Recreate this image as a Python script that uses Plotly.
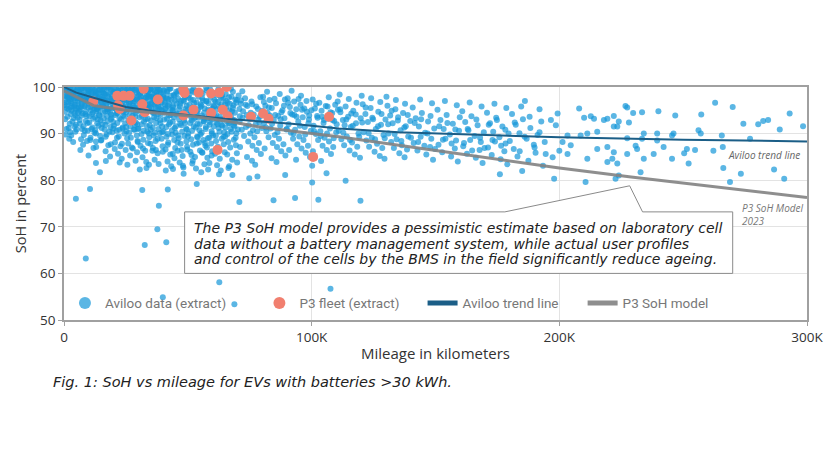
import plotly.graph_objects as go

# Aviloo data (extract) - mileage in thousand km, SoH in percent
aviloo_km = [
    0.8, 1.5, 2.2, 3.1, 3.8, 4.5, 1.2, 2.7, 4.1, 0.5, 3.4, 1.9, 4.7, 2.5, 0.9, 3.6, 4.9, 1.7, 2.9, 4.3, 0.6, 2.1,
    5.3, 6.1, 7.0, 7.8, 8.6, 9.4, 5.8, 6.7, 7.5, 8.2, 9.1, 9.8, 5.5, 6.4, 7.3, 8.8, 9.6, 6.9, 8.0, 5.1, 9.3, 7.7, 6.2, 8.4,
    10.4, 11.2, 12.0, 12.8, 13.6, 14.4, 10.9, 11.7, 12.5, 13.3, 14.1, 14.8, 10.2, 11.5, 12.3, 13.9, 14.6, 10.7, 12.9, 11.9, 13.4, 14.9, 10.1, 12.2, 13.7,
    15.3, 16.1, 16.9, 17.7, 18.5, 19.3, 15.8, 16.6, 17.4, 18.2, 19.0, 19.8, 15.5, 16.4, 17.2, 18.8, 19.5, 15.1, 17.9, 16.8, 18.6, 19.9, 15.9, 17.1, 18.9, 16.3,
    20.4, 21.1, 21.9, 22.6, 23.4, 24.2, 20.8, 21.6, 22.4, 23.1, 23.9, 24.7, 20.2, 21.3, 22.1, 23.6, 24.4, 20.6, 22.8, 24.9, 21.8, 23.3, 24.1, 22.2, 20.9, 23.8,
    25.3, 26.0, 26.8, 27.5, 28.3, 29.1, 25.7, 26.5, 27.2, 28.0, 28.8, 29.6, 25.1, 26.3, 27.0, 28.5, 29.4, 25.9, 27.8, 29.8, 26.7, 28.9, 29.2, 27.3, 25.5, 28.6,
    30.3, 31.1, 31.8, 32.6, 33.4, 34.2, 30.7, 31.5, 32.3, 33.0, 33.8, 34.6, 30.1, 31.3, 32.0, 33.6, 34.4, 30.9, 32.8, 34.9, 31.7, 33.2, 34.0, 32.1, 30.5, 33.9,
    35.2, 36.0, 36.7, 37.5, 38.3, 39.1, 35.6, 36.4, 37.2, 38.0, 38.8, 39.6, 35.0, 36.2, 37.0, 38.6, 39.4, 35.9, 37.8, 39.8, 36.6, 38.2, 39.0, 37.4, 35.4, 38.5,
    40.4, 41.2, 41.9, 42.7, 43.5, 44.3, 40.8, 41.6, 42.4, 43.1, 43.9, 44.7, 40.2, 41.4, 42.1, 43.7, 44.5, 41.0, 42.9, 44.9, 41.8, 43.3, 44.1, 42.3, 40.6, 43.8,
    45.3, 46.1, 46.8, 47.6, 48.4, 49.2, 45.7, 46.5, 47.3, 48.0, 48.8, 49.6, 45.1, 46.3, 47.1, 48.6, 49.4, 45.9, 47.9, 49.8, 46.7, 48.2, 49.0, 47.4, 45.5, 48.9,
    50.4, 51.2, 51.9, 52.7, 53.5, 54.3, 50.8, 51.6, 52.4, 53.1, 53.9, 54.7, 50.2, 51.4, 52.1, 53.7, 54.5, 51.0, 52.9, 54.9, 51.8, 53.3, 54.1, 52.3, 50.6, 53.8,
    55.3, 56.1, 56.8, 57.6, 58.4, 59.2, 55.7, 56.5, 57.3, 58.0, 58.8, 59.6, 55.1, 56.3, 57.1, 58.6, 59.4, 55.9, 57.9, 59.8, 56.7, 58.2, 59.0, 57.4, 55.5, 58.9,
    60.4, 61.2, 61.9, 62.7, 63.5, 64.3, 60.8, 61.6, 62.4, 63.1, 63.9, 64.7, 60.2, 61.4, 62.1, 63.7, 64.5, 61.0, 62.9, 64.9, 61.8, 63.3, 64.1, 62.3, 60.6,
    65.3, 66.1, 66.8, 67.6, 68.4, 69.2, 65.7, 66.5, 67.3, 68.0, 68.8, 69.6, 65.1, 66.3, 67.1, 68.6, 69.4, 65.9, 67.9, 69.8, 66.7, 68.2, 69.0, 67.4, 65.5,
    70.5, 71.4, 72.3, 73.1, 74.0, 74.8, 75.7, 76.6, 77.4, 78.3, 79.1, 79.9, 70.9, 71.8, 72.7, 73.5, 74.4, 75.2, 76.1, 76.9, 77.8, 78.7, 79.5, 71.1, 73.9, 75.9, 77.2, 79.3, 72.0, 78.0,
    80.4, 81.3, 82.2, 83.0, 83.9, 84.7, 85.6, 86.5, 87.3, 88.2, 89.0, 89.8, 80.8, 81.7, 82.6, 83.4, 84.3, 85.1, 86.0, 86.8, 87.7, 88.6, 89.4, 81.0, 83.8, 85.8, 87.1, 89.2, 82.0,
    90.3, 91.2, 92.1, 92.9, 93.8, 94.6, 95.5, 96.4, 97.2, 98.1, 98.9, 99.7, 90.7, 91.6, 92.5, 93.3, 94.2, 95.0, 95.9, 96.7, 97.6, 98.5, 99.3, 90.9, 93.7, 95.7, 97.9, 91.9,
    100.4, 101.3, 102.2, 103.1, 104.0, 104.8, 105.7, 106.6, 107.4, 108.3, 109.1, 109.9, 100.8, 101.7, 102.6, 103.5, 104.4, 105.2, 106.1, 107.0, 107.8, 108.7, 100.5, 103.8, 106.9, 109.5,
    110.5, 111.6, 112.6, 113.7, 114.7, 115.8, 116.8, 117.9, 118.9, 119.8, 110.9, 112.0, 113.1, 114.2, 115.3, 116.3, 117.4, 118.4, 119.5, 111.3, 115.0, 118.1,
    120.6, 121.7, 122.7, 123.8, 124.8, 125.9, 126.9, 128.0, 129.0, 129.8, 121.0, 122.1, 123.2, 124.3, 125.4, 126.4, 127.5, 128.5, 120.2, 124.0, 127.7, 129.4,
    130.6, 131.7, 132.7, 133.8, 134.8, 135.9, 136.9, 138.0, 139.0, 139.8, 131.0, 132.1, 133.2, 134.3, 135.4, 136.4, 137.5, 138.5, 130.2, 134.0, 137.7,
    140.8, 142.0, 143.3, 144.5, 145.8, 147.0, 148.3, 149.5, 141.2, 142.7, 144.0, 146.3, 147.8, 149.0, 143.8, 148.6,
    150.8, 152.0, 153.3, 154.5, 155.8, 157.0, 158.3, 159.5, 151.2, 152.7, 154.0, 156.3, 157.8, 159.0, 153.8, 158.6,
    160.8, 162.0, 163.3, 164.5, 165.8, 167.0, 168.3, 169.5, 161.2, 162.7, 164.0, 166.3, 167.8, 169.0, 163.8, 168.6,
    170.8, 172.0, 173.3, 174.5, 175.8, 177.0, 178.3, 179.5, 171.2, 172.7, 174.0, 176.3, 177.8, 179.0, 173.8, 178.6,
    180.9, 182.4, 183.9, 185.3, 186.8, 188.3, 189.7, 191.2, 192.7, 194.1, 181.6, 183.1, 184.6, 187.5, 190.4, 193.4, 186.1, 192.0,
    196.6, 198.6, 199.3, 201.3, 204.6, 200.0, 197.3, 203.3, 203.3, 208.6, 211.3, 215.3, 208.0, 210.0, 212.7, 214.0, 218.0, 219.4,
    222.0, 224.0, 222.0, 211.3, 215.3, 219.4, 222.0, 221.4, 219.4, 223.4, 227.4, 233.4, 239.5, 234.1, 239.5, 228.1, 223.4, 226.7,
    227.4, 229.8, 233.4, 246.8, 257.3, 262.9, 274.3, 280.3, 282.3, 284.3, 289.0, 298.4, 246.1, 245.5, 256.2, 257.1, 265.6, 251.5,
    250.4, 254.8, 266.0, 262.2, 245.5, 252.2, 266.2, 273.3, 286.7, 290.8, 268.9, 242.1, 238.1, 234.1, 230.8, 231.4, 227.4, 232.8,
    224.0, 222.7, 210.6, 197.9, 240.0, 270.0, 293.0, 277.0,
    10.5, 4.8, 8.8, 38.3, 31.6, 41.9, 53.6, 70.8, 84.6, 93.3, 102.7, 100.2, 37.7, 32.6, 41.3, 62.7, 39.9, 68.8, 107.6,
    14.5, 12.9, 22.5, 30.6, 34.3, 44.0, 48.0, 68.0, 74.8, 78.1, 89.3, 106.0, 100.2, 119.7, 113.7,
]
aviloo_soh = [
    99.2, 97.8, 98.9, 96.5, 99.6, 97.1, 95.4, 94.2, 95.8, 93.1, 92.6, 91.2, 93.9, 90.3, 96.7, 98.3, 99.1, 99.8, 97.4, 91.5, 89.8, 88.9,
    99.4, 98.1, 99.7, 97.5, 98.8, 96.9, 96.2, 95.1, 94.3, 95.9, 93.8, 99.2, 93.4, 92.1, 91.0, 92.7, 90.6, 97.3, 89.7, 90.9, 88.4, 87.6, 99.0, 100.0,
    99.5, 98.4, 97.2, 99.1, 96.4, 98.0, 95.7, 94.6, 93.5, 95.2, 94.0, 92.8, 92.4, 91.3, 90.2, 91.7, 89.5, 89.1, 88.3, 86.9, 100.0, 97.0, 97.6, 96.1, 93.0,
    99.3, 98.6, 97.3, 99.8, 96.8, 98.2, 95.9, 94.8, 93.7, 95.4, 94.1, 92.5, 92.0, 90.9, 89.8, 91.4, 90.3, 88.6, 87.5, 86.2, 85.1, 99.0, 97.5, 96.0, 93.1, 100.0,
    99.6, 98.3, 97.0, 99.2, 96.6, 98.5, 95.5, 94.4, 93.3, 95.1, 93.9, 92.2, 91.7, 90.6, 89.4, 91.1, 90.0, 88.1, 87.3, 86.5, 85.7, 84.6, 97.7, 100.0, 96.9, 94.7,
    99.4, 98.0, 96.8, 99.7, 97.4, 98.7, 95.2, 94.0, 92.9, 94.8, 93.6, 92.0, 91.4, 90.2, 89.1, 90.8, 89.6, 87.9, 86.8, 88.2, 85.3, 84.2, 96.1, 100.0, 97.1, 91.9,
    99.1, 97.9, 96.5, 99.5, 97.0, 98.4, 95.0, 93.8, 92.6, 94.5, 93.2, 91.8, 91.1, 89.9, 88.7, 90.4, 89.2, 87.4, 86.3, 87.8, 84.9, 83.9, 96.3, 100.0, 97.4, 99.7,
    99.3, 97.6, 96.2, 99.0, 97.3, 98.6, 94.7, 93.5, 92.3, 94.2, 92.9, 91.5, 90.8, 89.6, 88.4, 90.1, 88.9, 86.9, 85.8, 87.3, 84.4, 83.5, 95.8, 99.8, 96.6, 95.3,
    99.2, 97.7, 96.0, 99.6, 97.2, 98.3, 94.5, 93.2, 92.0, 94.0, 92.6, 91.2, 90.5, 89.3, 88.1, 89.8, 88.6, 86.6, 85.5, 86.9, 84.0, 83.0, 95.6, 100.0, 96.8, 95.0,
    99.0, 97.5, 95.8, 99.4, 96.9, 98.1, 94.3, 93.0, 91.8, 93.7, 92.3, 90.9, 90.2, 89.0, 87.8, 89.5, 88.3, 86.3, 85.2, 86.6, 83.8, 82.7, 95.3, 99.9, 96.4, 97.8,
    99.1, 97.3, 95.6, 98.8, 96.7, 97.9, 94.1, 92.8, 91.6, 93.5, 92.1, 90.7, 90.0, 88.8, 87.6, 89.3, 88.1, 86.1, 85.0, 86.4, 83.6, 82.5, 95.1, 99.7, 96.2, 94.6,
    98.9, 97.1, 95.4, 99.3, 96.5, 97.7, 93.9, 92.6, 91.4, 93.3, 91.9, 90.5, 89.8, 88.6, 87.4, 89.1, 87.9, 85.9, 84.8, 86.2, 83.4, 82.3, 94.9, 99.8, 96.0, 98.4,
    98.7, 96.9, 95.2, 98.1, 96.3, 97.5, 93.7, 92.4, 91.2, 93.1, 91.7, 90.3, 89.6, 88.4, 87.2, 88.9, 87.7, 85.7, 84.6, 86.0, 83.2, 82.1, 94.7, 99.5, 95.8,
    98.5, 96.7, 95.0, 97.9, 96.1, 97.3, 93.5, 92.2, 91.0, 92.9, 91.5, 90.1, 89.4, 88.2, 87.0, 88.7, 87.5, 85.5, 84.4, 85.8, 83.0, 99.0, 94.5, 99.6, 95.6,
    98.2, 96.4, 94.8, 97.6, 95.9, 93.2, 96.9, 94.1, 92.0, 95.3, 93.6, 91.2, 92.6, 90.8, 89.5, 91.4, 88.3, 90.0, 87.4, 89.2, 86.5, 88.0, 85.6, 87.1, 85.0, 84.2, 83.3, 97.8, 99.1, 90.5,
    97.9, 96.0, 94.4, 97.2, 95.5, 92.9, 96.5, 93.8, 91.7, 95.0, 93.3, 90.9, 92.3, 90.5, 89.2, 91.1, 88.0, 89.7, 87.1, 88.9, 86.2, 87.7, 85.3, 86.8, 84.7, 83.9, 98.5, 97.3, 99.0,
    97.6, 95.7, 94.1, 96.9, 95.2, 92.6, 96.2, 93.5, 91.4, 94.7, 93.0, 90.6, 92.0, 90.2, 88.9, 90.8, 87.7, 89.4, 86.8, 88.6, 85.9, 87.4, 85.0, 86.5, 84.4, 98.1, 97.0, 99.2,
    97.3, 95.4, 93.8, 96.6, 94.9, 92.3, 95.9, 93.2, 91.1, 94.4, 92.7, 90.3, 91.7, 89.9, 88.6, 90.5, 87.4, 89.1, 86.5, 88.3, 85.6, 87.1, 86.2, 84.1, 97.8, 96.2,
    96.9, 94.6, 92.9, 95.8, 93.6, 91.4, 94.9, 92.2, 90.0, 93.3, 90.6, 88.8, 87.5, 89.4, 86.4, 88.1, 85.5, 87.2, 84.8, 98.4, 97.4, 96.6,
    96.3, 94.2, 92.5, 95.5, 93.1, 91.0, 94.7, 91.9, 89.7, 93.0, 90.3, 88.5, 87.2, 89.1, 86.1, 87.8, 85.2, 86.9, 98.1, 97.6, 96.8, 84.6,
    96.0, 93.9, 92.2, 95.2, 92.8, 90.7, 94.4, 91.6, 89.4, 92.7, 90.0, 88.2, 86.9, 88.8, 85.8, 87.5, 84.9, 86.6, 97.9, 97.2, 96.4,
    95.6, 93.3, 91.5, 94.4, 90.2, 92.6, 88.9, 91.1, 88.0, 86.4, 89.3, 85.5, 87.1, 84.4, 97.3, 96.5,
    95.1, 92.9, 91.0, 94.0, 89.8, 92.1, 88.5, 90.6, 87.6, 86.0, 88.9, 85.1, 86.8, 84.0, 97.0, 96.1,
    94.8, 92.5, 90.7, 93.7, 89.5, 91.8, 88.2, 90.3, 87.3, 85.7, 88.6, 84.8, 86.5, 83.7, 96.7, 95.8,
    94.5, 92.2, 90.4, 93.4, 89.2, 91.5, 87.9, 90.0, 87.0, 85.4, 88.3, 84.5, 86.2, 83.4, 96.4, 95.5,
    94.2, 91.9, 90.1, 93.1, 88.9, 91.2, 87.6, 89.7, 92.6, 88.2, 86.7, 85.1, 95.8, 84.2, 85.9, 83.1, 97.0, 95.2,
    92.9, 91.8, 94.3, 88.2, 87.5, 86.3, 84.9, 85.6, 89.6, 89.6, 90.0, 90.4, 95.4, 93.4, 93.7, 93.2, 92.9, 93.2,
    93.8, 92.6, 91.5, 84.6, 86.7, 87.1, 86.0, 84.6, 83.9, 83.6, 89.0, 88.9, 88.5, 90.0, 90.0, 92.4, 91.5, 95.9,
    95.6, 94.4, 94.6, 93.9, 94.1, 96.6, 92.1, 92.0, 92.7, 92.9, 90.9, 91.6, 90.0, 89.6, 90.7, 90.0, 89.6, 86.7,
    85.8, 86.5, 87.1, 86.3, 84.6, 83.6, 82.6, 81.4, 82.3, 80.3, 79.6, 87.1, 85.6, 84.6, 87.4, 86.7, 85.6, 81.7,
    81.0, 80.3, 79.6, 80.3, 94.8, 95.7, 94.3, 88.9,
    78.1, 76.0, 63.2, 74.5, 77.9, 78.0, 79.2, 75.3, 75.7, 76.2, 75.8, 79.5, 69.5, 66.1, 66.7, 58.1, 54.9, 53.4, 56.7,
    81.7, 83.7, 83.8, 82.3, 83.3, 82.4, 83.1, 81.1, 80.4, 80.8, 81.1, 81.5, 83.1, 75.6, 79.9,
]

# the dense core of the Aviloo cloud, more points
core_km = [
    0.3, 1.1, 1.8, 2.4, 3.3, 4.0, 4.6, 5.7, 6.5, 7.2,
    8.1, 8.9, 9.7, 10.6, 11.4, 12.1, 12.7, 13.5, 14.2, 15.0,
    15.6, 16.5, 17.3, 18.0, 18.7, 19.6, 20.3, 21.0, 21.7, 22.5,
    23.2, 24.0, 24.6, 25.4, 26.2, 26.9, 27.7, 28.4, 29.3, 30.0,
    30.8, 31.6, 32.4, 33.1, 33.7, 34.5, 35.3, 36.1, 36.9, 37.6,
    38.4, 39.3, 40.1, 40.9, 41.7, 42.5, 43.2, 44.0, 44.8, 45.6,
    46.4, 47.2, 48.1, 48.7, 49.5, 50.3, 51.1, 51.8, 52.6, 53.4,
    54.2, 55.0, 55.8, 56.6, 57.5, 58.3, 59.1, 59.9, 60.7, 61.5,
    62.2, 63.0, 63.8, 64.6, 65.4, 66.2, 67.0, 67.8, 68.7, 69.5,
    0.4, 1.4, 2.3, 3.0, 3.9, 4.8, 5.6, 6.3, 7.1, 7.9,
    8.7, 9.5, 10.3, 11.1, 11.8, 12.6, 13.4, 14.3, 15.2, 16.0,
    16.7, 17.5, 18.3, 19.2, 20.0, 20.7, 21.5, 22.3, 23.0, 23.7,
    24.5, 25.2, 26.1, 26.8, 27.6, 28.2, 29.0, 29.9, 30.6, 31.4,
    32.2, 32.9, 33.5, 34.3, 35.1, 35.8, 36.6, 37.3, 38.1, 38.9,
    39.7, 40.5, 41.3, 42.0, 42.8, 43.6, 44.4, 45.2, 46.0, 46.9,
    47.7, 48.5, 49.3, 50.0, 50.9, 51.7, 52.5, 53.2, 54.0, 54.8,
    55.6, 56.4, 57.2, 58.1, 58.9, 59.7, 60.5, 61.3, 62.0, 62.8,
    63.6, 64.4, 65.2, 66.0, 66.9, 67.7, 68.5, 69.3, 70.2, 71.0,
    0.7, 1.6, 2.6, 3.5, 4.4, 5.2, 6.0, 6.8, 7.6, 8.5,
    9.2, 10.0, 10.8, 11.6, 12.4, 13.1, 13.9, 14.7, 15.4, 16.2,
    17.0, 17.8, 18.6, 19.4, 20.1, 20.9, 21.7, 22.7, 23.5, 24.3,
    25.0, 25.8, 26.6, 27.4, 28.1, 28.9, 29.7, 30.4, 31.2, 32.0,
    32.7, 33.5, 34.3, 35.0, 35.7, 36.5, 37.2, 38.0, 38.7, 39.5,
    70.8, 72.1, 73.4, 74.6, 75.4, 76.3, 77.6, 78.9, 80.1, 81.5,
    82.7, 84.0, 85.3, 86.2, 87.5, 88.8, 90.0, 91.4, 92.7, 93.9,
    95.2, 96.1, 97.4, 98.7, 99.9, 101.0, 102.4, 103.7, 105.0, 106.2,
    107.6, 108.9, 110.1, 111.5, 112.8, 114.0, 115.5, 116.6, 117.8, 119.2,
    120.4, 121.8, 123.0, 124.5, 125.6, 126.8, 128.2, 129.5, 130.9, 132.3,
    133.5, 134.9, 136.2, 137.4, 138.8, 140.1, 141.6, 143.0, 144.2, 145.5,
    146.8, 148.0, 149.8, 151.5, 153.0, 154.8, 156.5, 158.0, 159.8, 161.5,
    163.0, 164.8, 166.5, 168.0, 169.8, 171.5, 173.0, 174.8, 176.5, 178.2,
    180.0, 182.0, 184.0, 186.0, 188.0, 190.0, 192.0, 194.5, 185.0, 176.0,
    3.7, 6.6, 9.9, 13.0, 16.9, 20.5, 25.6, 29.5, 33.3, 37.1,
    41.1, 44.6, 48.3, 52.0, 55.4, 58.7, 62.6, 66.4, 69.9, 56.9,
    0.2, 0.9, 1.3, 2.0, 2.8, 3.2, 3.9, 4.2, 5.0, 5.4,
    6.2, 6.6, 7.4, 8.3, 8.8, 9.5, 10.2, 10.9, 11.3, 12.0,
    12.5, 13.2, 13.8, 14.5, 15.1, 15.7, 16.4, 17.1, 17.6, 18.4,
    19.0, 19.7, 20.5, 21.2, 21.9, 22.4, 23.1, 23.8, 24.4, 25.1,
    25.6, 26.4, 27.1, 27.8, 28.6, 29.4, 30.2, 30.9, 31.5, 32.3,
    33.0, 33.8, 34.6, 35.2, 36.0, 36.8, 37.5, 38.2, 39.0, 39.8,
    40.3, 41.0, 41.6, 42.4, 43.0, 43.9, 44.6, 45.4, 46.2, 46.9,
    47.6, 48.3, 49.1, 49.8, 50.6, 51.4, 52.2, 52.9, 53.6, 54.4,
    55.2, 56.0, 56.7, 57.4, 58.2, 59.0, 59.7, 60.4, 61.1, 61.9,
    62.6, 63.4, 64.2, 65.0, 65.8, 66.6, 67.4, 68.2, 69.0, 69.8,
    1.0, 2.9, 4.6, 6.9, 8.4, 10.6, 12.9, 14.9, 16.8, 18.9,
    21.4, 23.4, 25.5, 27.4, 29.7, 31.9, 33.9, 35.7, 37.8, 39.9,
    41.9, 43.9, 45.8, 47.5, 49.7, 51.5, 53.6, 55.7, 57.7, 59.6,
    71.5, 73.8, 76.0, 78.4, 80.7, 83.1, 85.0, 87.8, 90.5, 93.0,
    94.7, 97.0, 99.0, 101.8, 104.2, 106.4, 108.4, 110.6, 113.3, 116.0,
    0.5, 1.0, 1.6, 2.2, 2.6, 3.4, 4.1, 4.9, 5.6, 6.3,
    7.0, 7.7, 8.5, 9.1, 9.8, 10.5, 11.2, 11.9, 12.6, 13.3,
    14.0, 14.8, 15.5, 16.2, 17.0, 17.7, 18.4, 19.2, 19.9, 20.6,
    21.3, 22.1, 22.9, 23.6, 24.3, 25.0, 25.8, 26.5, 27.3, 28.0,
    28.8, 29.5, 30.3, 31.0, 31.8, 32.5, 33.3, 34.0, 34.8, 35.5,
    36.3, 37.0, 37.8, 38.5, 39.3, 40.0, 40.8, 41.5, 42.3, 43.0,
]
core_soh = [
    98.4, 99.5, 96.8, 99.9, 97.9, 98.6, 95.1, 99.3, 97.9, 96.3,
    99.6, 97.2, 98.5, 96.9, 99.8, 95.4, 98.3, 97.5, 99.3, 96.6,
    98.9, 97.0, 95.3, 98.4, 99.5, 96.3, 97.6, 99.9, 96.0, 98.0,
    99.4, 95.8, 97.3, 98.9, 96.4, 99.2, 97.7, 95.6, 99.6, 97.0,
    98.6, 95.9, 97.8, 99.1, 96.1, 98.0, 95.5, 99.4, 97.4, 95.0,
    98.9, 96.7, 97.9, 95.3, 99.0, 96.3, 98.1, 94.9, 97.1, 98.6,
    95.2, 97.0, 94.6, 98.2, 96.0, 97.7, 94.8, 99.2, 96.5, 94.2,
    98.5, 95.7, 97.6, 94.5, 96.9, 93.8, 98.8, 95.4, 97.2, 94.0,
    96.8, 93.6, 98.2, 95.3, 97.0, 93.4, 96.4, 94.8, 92.9, 96.6,
    94.7, 93.6, 92.1, 94.9, 93.3, 91.9, 94.5, 92.9, 93.9, 91.6,
    94.2, 92.3, 93.7, 91.0, 93.2, 90.7, 92.2, 93.9, 91.2, 93.3,
    91.9, 92.6, 90.4, 93.4, 91.1, 94.0, 92.3, 90.8, 93.0, 91.3,
    93.6, 90.5, 92.7, 91.5, 93.8, 90.9, 92.4, 91.0, 93.5, 92.0,
    90.6, 93.1, 91.6, 90.0, 92.8, 91.3, 90.2, 93.3, 91.0, 92.2,
    90.3, 93.0, 91.4, 89.9, 92.4, 90.7, 93.5, 91.6, 89.6, 92.1,
    90.4, 92.8, 91.1, 89.4, 92.3, 90.6, 93.2, 91.3, 89.2, 92.0,
    90.2, 92.7, 91.0, 89.0, 92.5, 90.0, 91.6, 89.6, 92.0, 90.4,
    91.9, 89.3, 91.3, 89.9, 92.3, 90.4, 91.8, 89.1, 90.9, 93.7,
    100.0, 98.1, 97.0, 99.0, 96.2, 97.6, 95.6, 98.5, 99.9, 95.8,
    97.8, 99.1, 95.0, 97.0, 99.4, 94.8, 98.6, 95.6, 97.9, 99.6,
    96.4, 98.0, 94.6, 97.1, 98.8, 95.2, 98.6, 96.5, 98.4, 94.9,
    96.3, 99.8, 95.9, 98.3, 96.9, 94.4, 98.0, 95.7, 99.6, 96.8,
    94.3, 98.2, 95.4, 99.7, 97.1, 94.5, 98.1, 96.0, 99.3, 94.9,
    95.3, 93.4, 96.2, 91.8, 94.5, 90.7, 95.8, 92.4, 94.9, 91.3,
    95.6, 92.1, 94.0, 90.3, 93.1, 96.0, 91.0, 94.4, 90.0, 93.6,
    91.7, 95.1, 89.8, 92.2, 95.0, 90.5, 93.4, 89.5, 92.9, 90.0,
    94.6, 89.0, 92.0, 95.2, 90.2, 93.0, 88.6, 91.7, 94.1, 89.3,
    92.4, 95.6, 90.1, 93.4, 88.8, 91.6, 94.2, 89.0, 92.0, 94.9,
    89.9, 93.5, 88.4, 91.3, 94.0, 89.1, 92.3, 88.2, 93.1, 87.4,
    90.0, 93.8, 86.7, 91.6, 88.7, 92.3, 87.9, 90.9, 93.5, 88.0,
    91.0, 86.4, 93.0, 89.1, 86.9, 91.9, 88.6, 92.9, 87.4, 90.8,
    88.4, 92.4, 86.2, 89.3, 93.6, 87.0, 90.3, 85.6, 82.0, 81.3,
    88.2, 86.5, 85.3, 87.1, 84.1, 86.7, 83.3, 86.0, 82.6, 86.5,
    82.1, 84.7, 81.4, 84.2, 81.7, 83.7, 81.3, 82.6, 83.8, 88.0,
    96.1, 98.0, 99.7, 95.2, 98.6, 96.0, 100.0, 94.4, 98.3, 96.9,
    94.9, 99.5, 97.0, 98.0, 94.7, 99.9, 96.4, 98.9, 94.2, 99.0,
    95.9, 98.7, 95.1, 99.6, 97.3, 94.5, 98.5, 99.9, 94.8, 97.1,
    99.3, 95.5, 98.2, 94.3, 99.2, 97.2, 95.0, 98.0, 99.8, 94.6,
    97.8, 99.3, 95.4, 97.0, 99.8, 94.9, 98.3, 96.2, 99.9, 94.7,
    97.6, 99.0, 95.8, 97.9, 94.4, 98.6, 96.5, 99.6, 94.1, 97.4,
    99.4, 95.5, 97.5, 93.9, 99.7, 96.0, 98.2, 94.1, 99.2, 96.4,
    93.6, 97.2, 99.4, 95.0, 98.4, 93.5, 97.2, 95.3, 99.1, 93.4,
    96.3, 98.6, 93.2, 97.0, 95.1, 99.5, 93.0, 96.0, 98.3, 93.1,
    95.8, 97.7, 93.0, 96.2, 92.6, 97.8, 93.7, 95.5, 92.4, 97.2,
    91.0, 89.6, 90.4, 88.8, 90.6, 88.6, 90.0, 88.5, 89.3, 87.7,
    89.1, 87.8, 89.0, 87.0, 88.4, 86.8, 88.0, 86.3, 88.9, 86.1,
    87.6, 85.7, 88.1, 86.5, 87.2, 85.4, 87.9, 86.0, 87.0, 85.3,
    97.1, 94.0, 96.3, 93.0, 96.8, 93.9, 97.5, 94.6, 96.6, 94.0,
    97.4, 95.4, 93.9, 96.4, 93.6, 95.8, 92.9, 95.1, 91.8, 94.3,
    97.2, 95.9, 100.0, 97.7, 95.6, 98.9, 97.6, 95.5, 100.0, 97.5,
    95.8, 98.4, 97.0, 100.0, 95.6, 97.9, 100.0, 96.7, 97.9, 95.4,
    97.6, 100.0, 95.8, 97.2, 98.6, 95.3, 100.0, 97.5, 95.7, 99.0,
    96.6, 98.9, 95.5, 97.4, 100.0, 98.0, 95.2, 97.5, 98.7, 96.0,
    99.3, 97.3, 94.9, 98.9, 97.0, 100.0, 95.7, 97.8, 99.5, 96.4,
    98.3, 95.5, 100.0, 97.0, 95.0, 98.1, 96.3, 99.0, 97.3, 95.1,
]

# P3 fleet (extract)
p3_km = [11.8, 21.5, 24.0, 26.5, 21.8, 22.5, 32.2, 31.6, 32.6, 27.2, 37.9, 48.2, 48.7, 54.4, 59.4, 62.7,
         65.7, 48.2, 52.3, 59.4, 64.1, 66.1, 75.5, 80.4, 82.6, 107.0, 62.0, 100.6]
p3_soh = [96.9, 98.1, 98.1, 98.1, 96.1, 95.3, 99.6, 96.3, 94.6, 92.8, 97.3, 99.4, 98.7, 98.8, 98.6, 98.8,
          100.0, 93.9, 95.1, 94.4, 95.1, 93.7, 93.6, 94.3, 93.2, 93.6, 86.5, 85.0]

# trend lines
trend_km = [0, 5, 12, 25, 39, 65, 92, 111, 135, 200, 250, 300]
trend_soh = [100.0, 98.8, 97.7, 95.7, 94.6, 93.2, 92.1, 91.1, 90.3, 89.2, 88.7, 88.3]

model_km = [0, 5, 12, 25, 52, 68, 79, 100, 111, 143, 200, 229, 300]
model_soh = [99.2, 97.8, 96.0, 95.0, 93.7, 92.5, 91.4, 90.0, 89.3, 86.9, 82.6, 80.7, 76.3]

x_ticks = [0, 100, 200, 300]
x_tick_text = ["0", "100K", "200K", "300K"]

note_lines = [
    "The P3 SoH model provides a pessimistic estimate based on laboratory cell",
    "data without a battery management system, while actual user profiles",
    "and control of the cells by the BMS in the field significantly reduce ageing.",
]
note_y = [69.7, 66.4, 63.1]

fig = go.Figure()

fig.add_trace(go.Scatter(
    x=aviloo_km + core_km, y=aviloo_soh + core_soh, mode="markers", name="Aviloo data (extract)",
    marker=dict(color="#1597d8", size=6, opacity=0.7, line=dict(width=0)),
    legend="legend",
))
fig.add_trace(go.Scatter(
    x=p3_km, y=p3_soh, mode="markers", name="P3 fleet (extract)",
    marker=dict(color="#f17f6f", size=10, line=dict(width=0)),
    legend="legend2",
))
fig.add_trace(go.Scatter(
    x=trend_km, y=trend_soh, mode="lines", name="Aviloo trend line",
    line=dict(color="#1b5e87", width=2),
    legend="legend3",
))
fig.add_trace(go.Scatter(
    x=model_km, y=model_soh, mode="lines", name="P3 SoH model",
    line=dict(color="rgba(130,130,130,0.9)", width=3),
    legend="legend4",
))

# speech bubble with pointer towards the model line
bubble = "M 48.7,73.2 L 178,73.2 L 228.4,78.8 L 233.6,73.2 L 270,73.2 L 270,60 L 48.7,60 Z"
fig.add_shape(type="path", path=bubble, xref="x", yref="y",
              line=dict(color="#8a8a8a", width=1), fillcolor="white", layer="above")

for line, y in zip(note_lines, note_y):
    fig.add_annotation(x=51.7, y=y, xref="x", yref="y", text=line, showarrow=False,
                       xanchor="left", yanchor="middle",
                       font=dict(family="DejaVu Sans", size=14, color="#222", style="italic"))

fig.add_annotation(x=297.8, y=85.4, text="Aviloo trend line", showarrow=False,
                   xanchor="right", yanchor="middle",
                   font=dict(family="Open Sans", size=10, color="#666", style="italic"))
fig.add_annotation(x=272.8, y=72.7, text="P3 SoH Model<br>2023", showarrow=False,
                   xanchor="left", yanchor="middle", align="left",
                   font=dict(family="Open Sans", size=10, color="#777", style="italic"))

fig.add_annotation(x=-0.017, y=-0.266, xref="paper", yref="paper",
                   text="Fig. 1: SoH vs mileage for EVs with batteries >30 kWh.",
                   showarrow=False, xanchor="left", yanchor="middle",
                   font=dict(family="DejaVu Sans", size=14.5, color="#222", style="italic"))

legend_style = dict(orientation="h", y=0.072, xanchor="left", yanchor="middle",
                    bgcolor="rgba(0,0,0,0)", itemsizing="constant",
                    font=dict(family="Roboto", size=13.5, color="#777"))

# page body has an 8px margin, so the figure is 8px smaller and margins shifted
fig.update_layout(
    width=827, height=462,
    margin=dict(l=56, r=25, t=79, b=150),
    paper_bgcolor="white", plot_bgcolor="white",
    font=dict(family="Open Sans", color="#333"),
    showlegend=True,
    legend=dict(x=0.0013, **legend_style),
    legend2=dict(x=0.263, **legend_style),
    legend3=dict(x=0.4826, **legend_style),
    legend4=dict(x=0.698, **legend_style),
)
fig.update_xaxes(range=[0, 300], tickvals=x_ticks, ticktext=x_tick_text,
                 showgrid=True, gridcolor="#e3e3e3", gridwidth=1,
                 showline=True, linecolor="#a0a0a0", linewidth=1.5, mirror=True,
                 ticks="outside", ticklen=4, tickcolor="#a0a0a0",
                 tickfont=dict(size=13.5, color="#333"),
                 title=dict(text="Mileage in kilometers", font=dict(size=15, color="#333"), standoff=4),
                 zeroline=False)
fig.update_yaxes(range=[50, 100], dtick=10,
                 showgrid=True, gridcolor="#e3e3e3", gridwidth=1,
                 showline=True, linecolor="#a0a0a0", linewidth=1.5, mirror=True,
                 ticks="outside", ticklen=4, tickcolor="#a0a0a0",
                 tickfont=dict(size=13.5, color="#333"),
                 title=dict(text="SoH in percent", font=dict(size=14.5, color="#333"), standoff=2),
                 zeroline=False)

fig.write_html("out.html")
